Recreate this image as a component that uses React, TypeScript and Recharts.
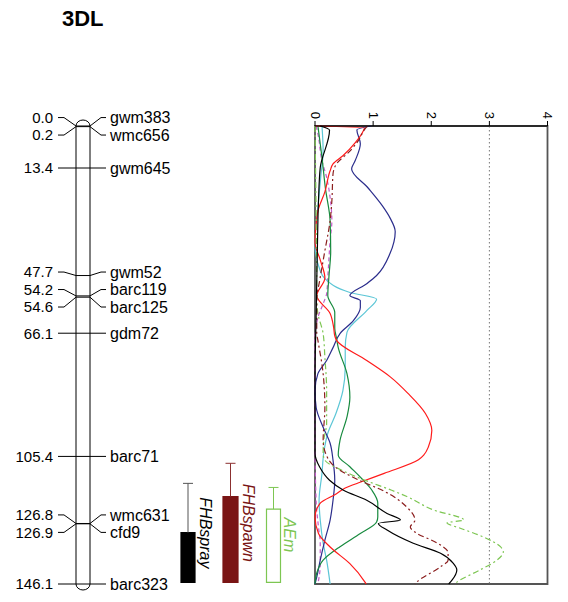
import React from "react";
import {
  ComposedChart,
  Line,
  XAxis,
  YAxis,
  ReferenceLine,
  ReferenceArea,
  ReferenceDot,
} from "recharts";

const W = 568;
const H = 602;
const FONT = "'Liberation Sans', Arial, Helvetica, sans-serif";

// linkage map of 3DL, positions in cM
const markerNames = ["gwm383", "wmc656", "gwm645", "gwm52", "barc119", "barc125", "gdm72", "barc71", "wmc631", "cfd9", "barc323"];
const markerPos = [0.0, 0.2, 13.4, 47.7, 54.2, 54.6, 66.1, 105.4, 126.8, 126.9, 146.1];
const MAP_LENGTH = 146.1;

// QTL support intervals (cM)
const qtlNames = ["FHBspray", "FHBspawn", "AEm"];
const qtlBoxTop = [129.7, 118.2, 122.2];
const qtlWhiskerTop = [114.0, 107.6, 115.3];
const qtlEnd = [145.6, 145.6, 145.6];

// LOD profiles, [cM, LOD]
const lodFHBspray = [
  [0, 0.09], [1.3, 0.25], [13.3, 0.09], [23.9, 0.06], [40, 0.04], [60, 0.02], [80, 0.0], [104.4, 0.0],
  [108.8, 0.08], [113, 0.25], [116.2, 0.49], [119.4, 0.89], [123.6, 1.24], [125.7, 1.47], [126.8, 1.09],
  [128.9, 1.24], [133.1, 1.69], [136.3, 2.16], [139.5, 2.38], [141.6, 2.44], [144.8, 2.36], [146.1, 2.3],
];
const lodFHBspawn = [
  [0, 0.9], [0.9, 0.86], [4.8, 0.74], [8.0, 0.6], [12.1, 0.37], [15.3, 0.31], [23.9, 0.29], [30.2, 0.26],
  [39.8, 0.17], [48.3, 0.09], [55.7, 0.03], [66.2, 0.03], [68.4, 0.05], [79, 0.14], [89.7, 0.17],
  [100.3, 0.14], [106, 0.22], [108.8, 0.35], [113, 0.76], [116.6, 1.2], [121.4, 1.57], [125.7, 1.72],
  [127.9, 1.64], [129.9, 1.75], [133.0, 2.1], [136.2, 2.29], [138.5, 2.29], [140.6, 2.16], [145.5, 1.75], [146.1, 1.72],
];
const lodAEm = [
  [0, 0.0], [30, 0.02], [50, 0.03], [55.7, 0.03], [59.8, 0.05], [66.2, 0.14], [73.7, 0.17], [84.4, 0.2],
  [94.9, 0.2], [100.3, 0.15], [104.4, 0.14], [106.6, 0.17], [109.8, 0.46], [113, 0.86], [116.2, 1.32],
  [118.2, 1.58], [122.5, 2.04], [125.7, 2.56], [126.6, 2.27], [128.3, 2.5], [131.1, 2.9], [134.2, 3.19],
  [135.8, 3.24], [138.5, 3.13], [141.6, 2.84], [145.5, 2.44], [146.1, 2.4],
];
const lodRed = [
  [0, 0.0], [0.6, 0.85], [1.6, 0.83], [5.4, 0.69], [9.5, 0.48], [12.1, 0.31], [14.3, 0.26], [21.0, 0.17],
  [27.1, 0.05], [31.2, 0.02], [37.2, 0.0], [42.7, 0.09], [48.5, 0.17], [54.1, 0.03], [59.8, 0.26],
  [64.2, 0.32], [66.9, 0.34], [68.4, 0.37], [74.8, 0.89], [80.1, 1.3], [85.3, 1.6], [91.7, 1.9],
  [97.1, 2.01], [102.4, 1.95], [105.0, 1.87], [106.5, 1.78], [110.8, 1.19], [113.5, 0.8], [115.5, 0.52],
  [117.3, 0.37], [120.3, 0.09], [124.7, 0.0], [130, 0.06], [134.3, 0.26], [139.6, 0.6], [145.5, 0.86], [146.1, 0.88],
];
const lodNavy = [
  [0, 0.97], [1.2, 0.72], [5.7, 0.78], [11.1, 0.69], [13.7, 0.63], [19.7, 0.91], [25.5, 1.16], [29.3, 1.29],
  [33.7, 1.38], [40.7, 1.29], [47.7, 1.06], [50.3, 0.89], [54.1, 0.6], [55.7, 0.78], [57.9, 0.78],
  [62.1, 0.66], [66.2, 0.43], [70.7, 0.31], [74.8, 0.2], [79.0, 0.05], [84.4, 0.0], [89.8, 0.02],
  [96.1, 0.14], [101.2, 0.26], [106.6, 0.31], [113.0, 0.34], [119.4, 0.31], [125.7, 0.26], [132.1, 0.17],
  [138.5, 0.09], [143.9, 0.03], [146.1, 0.0],
];
const lodCyan = [
  [0, 0.12], [8, 0.14], [16, 0.1], [26, 0.05], [37.6, 0.0], [46.2, 0.09], [48.7, 0.17], [53.1, 0.6],
  [55.2, 1.06], [58.9, 0.89], [65.8, 0.55], [70.6, 0.52], [77, 0.52], [84.4, 0.48], [91.7, 0.36],
  [98.0, 0.22], [104.4, 0.15], [110.8, 0.12], [119.4, 0.07], [125.7, 0.09], [133.0, 0.14], [138.5, 0.2], [146.1, 0.26],
];
const lodGreen = [
  [0, 0.05], [10, 0.12], [20, 0.18], [30.2, 0.26], [40, 0.27], [48, 0.24], [54.1, 0.22], [59.5, 0.34],
  [64.5, 0.34], [67.7, 0.37], [70.7, 0.4], [79, 0.55], [86.5, 0.6], [92.8, 0.55], [100.3, 0.43],
  [105, 0.4], [108.7, 0.6], [112.6, 0.81], [116.2, 0.98], [120.3, 1.08], [124.7, 1.08], [126.3, 1.06],
  [130, 0.78], [134.2, 0.43], [138.5, 0.14], [142.6, 0.03], [146.1, 0.0],
];
const lodMagenta = [
  [0, 0.02], [2.5, 0.05], [11.1, 0.12], [16.4, 0.2], [22.8, 0.26], [30.2, 0.29], [36.6, 0.26], [48.3, 0.22],
  [53.5, 0.2], [56.7, 0.14], [61.1, 0.05], [68.4, 0.0], [100, 0.0], [120, 0.02], [128, 0.06], [133, 0.09],
  [140, 0.09], [146.1, 0.05],
];

const lodTicks = [0, 1, 2, 3, 4];
const LOD_THRESHOLD = 3;

const series = [
  { data: lodMagenta, color: "#C45BC8", dash: "4 3" },
  { data: lodCyan, color: "#5CC6D6", dash: undefined },
  { data: lodNavy, color: "#2B2D8C", dash: undefined },
  { data: lodGreen, color: "#178A3E", dash: undefined },
  { data: lodRed, color: "#FF1A1A", dash: undefined },
  { data: lodAEm, color: "#7DC652", dash: "6 3 2 3" },
  { data: lodFHBspawn, color: "#8B1E1E", dash: "6 3 2 3" },
  { data: lodFHBspray, color: "#000000", dash: undefined },
];

// horizontal layout of the map (pixels)
const MX = { num: 53, start: 58, kneeL: 64, chrL: 76, chrR: 90, kneeR: 101, end: 106, name: 110 };
const QTL_STYLE = [
  { l: 181, r: 195, text: 200, stroke: "#000", whisker: "#555", fill: "#000", label: "#000" },
  { l: 223, r: 238, text: 242.7, stroke: "#7A1515", whisker: "#8B3030", fill: "#7A1515", label: "#7A1515" },
  { l: 266.5, r: 280.5, text: 283.5, stroke: "#7DC652", whisker: "#7DC652", fill: "#fff", label: "#7DC652" },
];

// push crowded labels apart, each group centred on its markers
function spreadLabels(pos: number[], gap: number) {
  let groups = pos.map((p, i) => ({ idx: [i], center: p }));
  let merged = true;
  while (merged) {
    merged = false;
    for (let g = 0; g < groups.length - 1; g++) {
      const a = groups[g];
      const b = groups[g + 1];
      const aEnd = a.center + ((a.idx.length - 1) * gap) / 2;
      const bStart = b.center - ((b.idx.length - 1) * gap) / 2;
      if (bStart - aEnd < gap) {
        const idx = [...a.idx, ...b.idx];
        const center = idx.reduce((s, i) => s + pos[i], 0) / idx.length;
        groups.splice(g, 2, { idx, center });
        merged = true;
        break;
      }
    }
  }
  const out: number[] = [];
  groups.forEach((g) => g.idx.forEach((i, k) => (out[i] = g.center + (k - (g.idx.length - 1) / 2) * gap)));
  return out;
}

const labelPos = spreadLabels(markerPos, 5.58);

const toRows = (pts: number[][]) => pts.map(([cm, lod]) => ({ cm, lod }));

function LodTick(props: any) {
  const { x, y, payload } = props;
  const ax = x - 4.5;
  return (
    <text x={ax} y={y} transform={`rotate(90 ${ax} ${y})`} textAnchor="end" fontSize={13} fontFamily={FONT} fill="#000">
      {payload.value}
    </text>
  );
}

const chromosome = (p: any) => {
  const { x, y, width, height } = p;
  const r = width / 2;
  return (
    <path
      d={`M${x},${y} L${x},${y + height} A${r},6 0 0 0 ${x + width},${y + height} L${x + width},${y} A${r},6 0 0 0 ${x},${y} Z`}
      fill="none"
      stroke="#000"
      strokeWidth={1}
    />
  );
};

const textAt = (value: string, anchor: string, size: number, extra: any = {}) => (p: any) => (
  <text x={p.cx} y={p.cy} dy="0.36em" textAnchor={anchor} fontSize={size} fontFamily={FONT} fill="#000" {...extra}>
    {value}
  </text>
);

const rotatedText = (value: string, color: string) => (p: any) => (
  <text
    x={p.cx}
    y={p.cy}
    transform={`rotate(90 ${p.cx} ${p.cy})`}
    textAnchor="middle"
    fontSize={16}
    fontStyle="italic"
    fontFamily={FONT}
    fill={color}
  >
    {value}
  </text>
);

export default function App() {
  const mapSegments: any[] = [];
  markerPos.forEach((m, i) => {
    const l = labelPos[i];
    const pts = [
      [MX.start, l], [MX.kneeL, l], [MX.chrL, m], [MX.chrR, m], [MX.kneeR, l], [MX.end, l],
    ];
    for (let k = 0; k < pts.length - 1; k++) {
      mapSegments.push(
        <ReferenceLine
          key={`seg-${i}-${k}`}
          xAxisId="px"
          ifOverflow="visible"
          stroke="#000"
          strokeWidth={1}
          segment={[{ x: pts[k][0], y: pts[k][1] }, { x: pts[k + 1][0], y: pts[k + 1][1] }]}
        />
      );
    }
  });

  return (
    <div style={{ position: "absolute", left: 0, top: 0, width: W, height: H, background: "#fff" }}>
      <div
        style={{
          position: "absolute",
          left: 62,
          top: 6,
          fontFamily: FONT,
          fontWeight: "bold",
          fontSize: 22,
          lineHeight: "normal",
        }}
      >
        3DL
      </div>
      <ComposedChart width={W} height={H} layout="vertical" margin={{ top: 96, right: 20.5, bottom: 18, left: 315 }}>
        <XAxis
          xAxisId="lod"
          type="number"
          orientation="top"
          domain={[0, 4]}
          ticks={lodTicks}
          interval={0}
          height={30}
          tickSize={5}
          tick={<LodTick />}
          axisLine={{ stroke: "#000" }}
          tickLine={{ stroke: "#000" }}
        />
        <XAxis xAxisId="px" type="number" hide domain={[315, 547.5]} allowDataOverflow />
        <YAxis type="number" dataKey="cm" domain={[0, MAP_LENGTH]} hide />

        <ReferenceArea xAxisId="lod" x1={0} x2={4} y1={0} y2={MAP_LENGTH} fill="none" stroke="#555" strokeWidth={1.8} ifOverflow="visible" />
        <ReferenceLine xAxisId="lod" x={LOD_THRESHOLD} stroke="#777" strokeDasharray="1.5 2.5" />

        {series.map((s, i) => (
          <Line
            key={i}
            xAxisId="lod"
            data={toRows(s.data)}
            dataKey="lod"
            type="monotone"
            stroke={s.color}
            strokeWidth={1.2}
            strokeDasharray={s.dash}
            dot={false}
            activeDot={false}
            isAnimationActive={false}
          />
        ))}

        <ReferenceArea xAxisId="px" x1={MX.chrL} x2={MX.chrR} y1={0} y2={MAP_LENGTH} ifOverflow="visible" shape={chromosome} />
        {mapSegments}
        {markerPos.map((m, i) => (
          <ReferenceDot key={`num-${i}`} xAxisId="px" x={MX.num} y={labelPos[i]} ifOverflow="visible" shape={textAt(m.toFixed(1), "end", 15)} />
        ))}
        {markerNames.map((n, i) => (
          <ReferenceDot key={`name-${i}`} xAxisId="px" x={MX.name} y={labelPos[i]} ifOverflow="visible" shape={textAt(n, "start", 16)} />
        ))}

        {qtlNames.map((q, i) => {
          const st = QTL_STYLE[i];
          const mid = (st.l + st.r) / 2;
          return (
            <React.Fragment key={q}>
              <ReferenceLine xAxisId="px" ifOverflow="visible" stroke={st.whisker} segment={[{ x: mid, y: qtlWhiskerTop[i] }, { x: mid, y: qtlBoxTop[i] }]} />
              <ReferenceLine xAxisId="px" ifOverflow="visible" stroke={st.whisker} segment={[{ x: mid - 5, y: qtlWhiskerTop[i] }, { x: mid + 5, y: qtlWhiskerTop[i] }]} />
              <ReferenceArea
                xAxisId="px"
                x1={st.l}
                x2={st.r}
                y1={qtlBoxTop[i]}
                y2={qtlEnd[i]}
                fill={st.fill}
                fillOpacity={1}
                stroke={st.stroke}
                strokeWidth={1.2}
                ifOverflow="visible"
              />
              <ReferenceDot
                xAxisId="px"
                x={st.text}
                y={(qtlWhiskerTop[i] + qtlEnd[i]) / 2}
                ifOverflow="visible"
                shape={rotatedText(q, st.label)}
              />
            </React.Fragment>
          );
        })}
      </ComposedChart>
    </div>
  );
}
